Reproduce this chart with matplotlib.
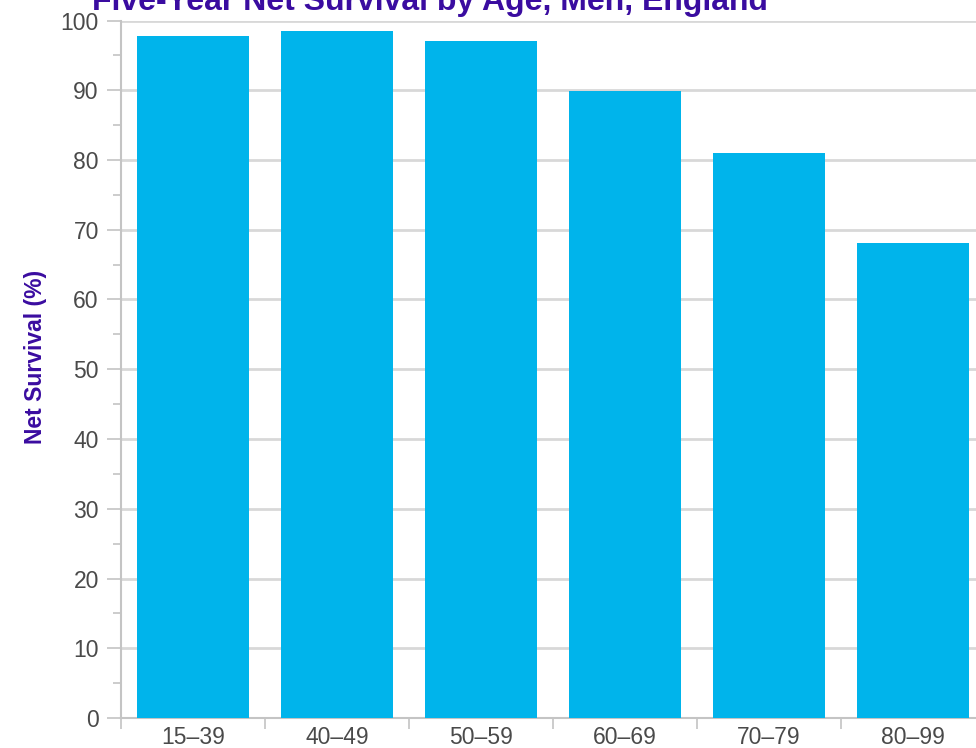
import matplotlib
matplotlib.use("Agg")
import matplotlib.pyplot as plt
from matplotlib.ticker import MultipleLocator, FixedLocator

age_groups = ["15–39", "40–49", "50–59", "60–69", "70–79", "80–99"]
net_survival = [97.8, 98.5, 97.1, 89.9, 81.0, 68.1]

title_text = "Five-Year Net Survival by Age, Men, England"
ylabel_text = "Net Survival (%)"

bar_color = "#00b4eb"
purple = "#3a0ca0"
grid_gray = "#d8d8d8"
axis_gray = "#c4c4c4"
label_gray = "#4a4a4a"

plt.rcParams["font.family"] = ["Liberation Sans", "DejaVu Sans"]

fig = plt.figure(figsize=(9.76, 7.48), dpi=100)
ax = fig.add_axes([121 / 976, 30 / 748, 864 / 976, 697.5 / 748])

x = range(len(age_groups))
ax.bar(x, net_survival, width=0.78, color=bar_color, zorder=3)

ax.set_xlim(-0.5, len(age_groups) - 0.5)
ax.set_ylim(0, 100)

# y axis: labels every 10, small ticks at the fives
ax.yaxis.set_major_locator(MultipleLocator(10))
ax.yaxis.set_minor_locator(MultipleLocator(5))
ax.tick_params(axis="y", which="major", length=10, width=1.2, color=axis_gray,
               labelsize=16.5, labelcolor=label_gray, pad=6)
ax.tick_params(axis="y", which="minor", length=6, width=1.2, color=axis_gray)

# x axis: labels under the bars, ticks between categories
ax.set_xticks(list(x))
ax.set_xticklabels(age_groups)
ax.xaxis.set_minor_locator(FixedLocator([i - 0.5 for i in range(len(age_groups) + 1)]))
ax.tick_params(axis="x", which="major", length=0, labelsize=16.5,
               labelcolor=label_gray, pad=6)
ax.tick_params(axis="x", which="minor", length=8, width=1.2, color=axis_gray)

ax.grid(axis="y", which="major", color=grid_gray, linewidth=2, zorder=0)
ax.set_axisbelow(True)

for side in ["top", "right"]:
    ax.spines[side].set_visible(False)
for side in ["left", "bottom"]:
    ax.spines[side].set_color(axis_gray)
    ax.spines[side].set_linewidth(1.5)

fig.text(36 / 976, 1 - 357 / 748, ylabel_text, rotation=90, ha="center",
         va="center", fontsize=16.5, fontweight="bold", color=purple)
fig.text(430 / 976, 1 - 10 / 748, title_text, ha="center", va="baseline",
         fontsize=23, fontweight="bold", color=purple)

fig.savefig("out.png", dpi=100)
